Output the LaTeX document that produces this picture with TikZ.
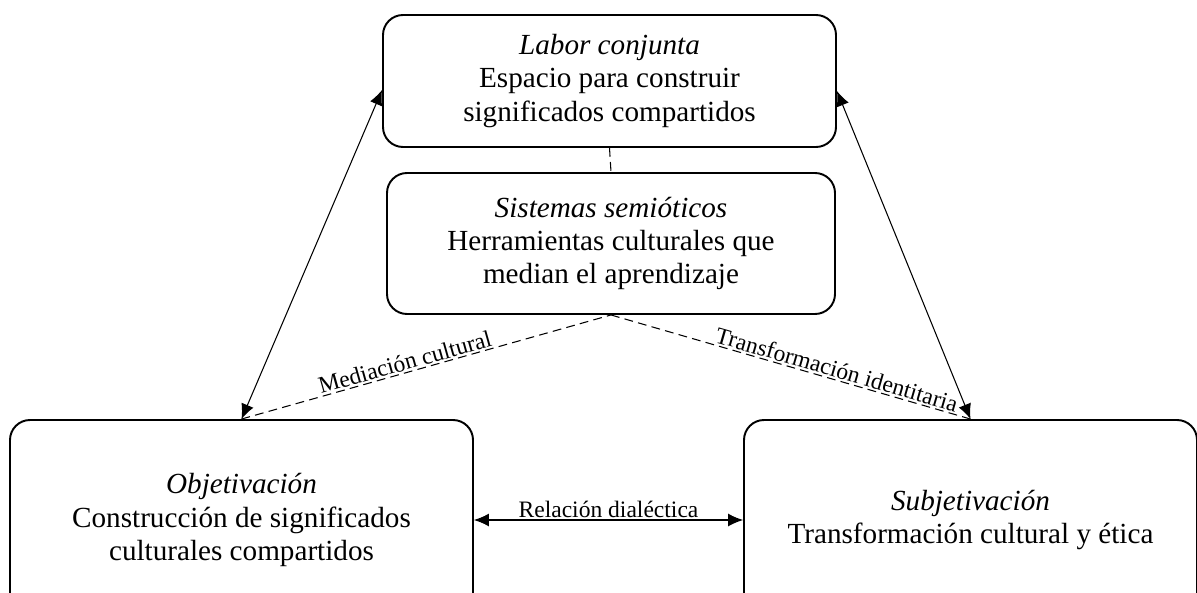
\documentclass[tikz,border=0pt]{standalone}
\usepackage{fontspec}
\setmainfont{Liberation Serif}
\usetikzlibrary{arrows.meta}

\begin{document}
\begin{tikzpicture}[
    caja/.style={draw, line width=1.1pt, rounded corners=0.4cm, align=center,
                 font=\fontsize{16.6}{19}\selectfont, inner sep=0pt},
    flecha/.style={line width=0.6pt, {Latex[length=3mm,width=2.6mm]}-{Latex[length=3mm,width=2.6mm]}},
    enlace/.style={line width=0.6pt, dashed, dash pattern=on 5pt off 3pt},
    rotulo/.style={font=\fontsize{13.4}{16}\selectfont, inner sep=1pt}]
    \useasboundingbox (0,0) rectangle (23.94,-11.84);
    \node[caja, minimum width=9.06cm, minimum height=2.64cm] (labor) at (12.19,-1.62)
        {\textit{Labor conjunta}\\Espacio para construir\\significados compartidos};
    \node[caja, minimum width=8.96cm, minimum height=2.82cm] (sistemas) at (12.22,-4.87)
        {\textit{Sistemas semióticos}\\Herramientas culturales que\\median el aprendizaje};
    \node[caja, minimum width=9.26cm, minimum height=4cm] (objetiv) at (4.83,-10.4)
        {\textit{Objetivación}\\Construcción de significados\\culturales compartidos};
    \node[caja, minimum width=9.06cm, minimum height=4cm] (subjetiv) at (19.41,-10.4)
        {\textit{Subjetivación}\\Transformación cultural y ética};
    % arrows between the corners of the triangle
    \draw[flecha] ([yshift=-0.18cm]labor.west) -- (objetiv.north);
    \draw[flecha] ([yshift=-0.2cm]labor.east) -- (subjetiv.north);
    \draw[flecha] (objetiv.east) -- node[rotulo, above] {Relación dialéctica} (subjetiv.west);
    % dashed links through the semiotic systems
    \draw[enlace] (labor.south) -- (sistemas.north);
    \draw[enlace] (objetiv.north) -- node[rotulo, pos=0.45, sloped, above] {Mediación cultural} (sistemas.south);
    \draw[enlace] (sistemas.south) -- node[rotulo, pos=0.62, sloped, above] {Transformación identitaria} (subjetiv.north);
\end{tikzpicture}
\end{document}
